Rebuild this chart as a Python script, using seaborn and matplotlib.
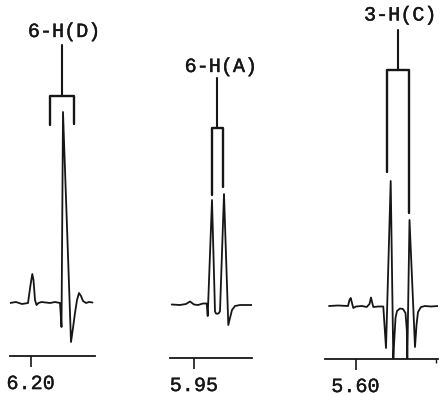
import matplotlib
matplotlib.use("Agg")
import matplotlib.pyplot as plt
import matplotlib.patheffects as pe
import pandas as pd
import seaborn as sns

# ---- spectra: chemical shift (ppm) and signal intensity (arbitrary units) ----
shift_d = [6.2207, 6.2147, 6.2087, 6.2027, 6.2002, 6.1984, 6.1972, 6.1957, 6.1942,
           6.1922, 6.1892, 6.1807, 6.1757, 6.1707, 6.1692, 6.1677, 6.1597, 6.1577,
           6.1557, 6.1537, 6.1517, 6.1497, 6.1477, 6.1447, 6.1417, 6.1382]
inten_d = [0, 1, -1, 0, 18, 29, 23, 3, -2,
           0, 1, 0, 1, 0, -24, 191, -39, -25,
           -10, 3, 10, 7, 2, 0, 1, 0.5]

shift_a = [5.9723, 5.9640, 5.9580, 5.9540, 5.9500, 5.9460, 5.9410, 5.9373, 5.9363,
           5.9320, 5.9290, 5.9280, 5.9265, 5.9250, 5.9240, 5.9200, 5.9157, 5.9140,
           5.9120, 5.9090, 5.9040, 5.8980, 5.8917]
inten_a = [0, -0.5, 0.5, 3, 0, -0.5, 1, 1, -11.5,
           104.5, -7, -9, -9.3, -8.5, -6.5, 110.5, -20.5, -13.5,
           -5.5, -1.5, -0.5, -0.5, -0.5]

shift_c = [5.6265, 5.6175, 5.6075, 5.6060, 5.6048, 5.6035, 5.6022, 5.5995, 5.5935,
           5.5888, 5.5860, 5.5845, 5.5832, 5.5822, 5.5775, 5.5722, 5.5695, 5.5648,
           5.5622, 5.5615, 5.5600, 5.5585, 5.5555, 5.5525, 5.5500, 5.5487, 5.5482,
           5.5460, 5.5405, 5.5390, 5.5375, 5.5345, 5.5305, 5.5245, 5.5175]
inten_c = [0, 0.5, 0, 6, 8, 3, -2, -0.5, 0,
           -1, 2, 8.5, 3, -1, -0.5, -0.5, -42, 125,
           -54, -39, -12, -5, -2.5, -3, -7, -24, -54,
           86, -41, -19, -6, -1, 0, -0.5, 0]

# ---- signal assignments and axis labels ----
assignments = ["6-H(D)", "6-H(A)", "3-H(C)"]
tick_values = [6.20, 5.95, 5.60]
tick_labels = ["6.20", "5.95", "5.60"]

# bracket legs (ppm) marking each multiplet
bracket_legs = [[6.1807, 6.1564], [5.9320, 5.9210], [5.5682, 5.5462]]

spectra = [(shift_d, inten_d), (shift_a, inten_a), (shift_c, inten_c)]

# ---- panel layout (pixel boxes on a 445x395 canvas) and bracket geometry ----
W, H = 445, 395
panels = [
    dict(x0=10, x1=95, axis_y=356, baseline=303, ppm_left=6.2207, ppm_right=6.1357,
         bar=207, leg_bottom=[178.5, 179], stem_top=258, label_y=271.5, minor=None,
         label_dx=1.5),
    dict(x0=170, x1=252, axis_y=358, baseline=304.5, ppm_left=5.9740, ppm_right=5.8920,
         bar=176.5, leg_bottom=[109.5, 117.5], stem_top=226.5, label_y=238, minor=None,
         label_dx=2.5),
    dict(x0=325, x1=438, axis_y=359, baseline=306, ppm_left=5.6305, ppm_right=5.5175,
         bar=236, leg_bottom=[134, 93], stem_top=276, label_y=291, minor=5.5195,
         label_dx=1.5),
]

sns.set_style("white")
plt.rcParams["font.family"] = ["Liberation Mono", "DejaVu Sans Mono"]

INK = "#161616"
LW = 1.3
TEXT_FX = [pe.withStroke(linewidth=0.3, foreground=INK)]

fig = plt.figure(figsize=(W / 100, H / 100), dpi=100)

for (shift, inten), name, tv, tl, legs, p in zip(
        spectra, assignments, tick_values, tick_labels, bracket_legs, panels):
    ax = fig.add_axes([p["x0"] / W, 1 - p["axis_y"] / H,
                       (p["x1"] - p["x0"]) / W, p["axis_y"] / H])
    df = pd.DataFrame({"ppm": shift, "intensity": inten})
    sns.lineplot(data=df, x="ppm", y="intensity", sort=False, estimator=None,
                 color=INK, lw=LW, ax=ax)

    ax.set_xlim(p["ppm_left"], p["ppm_right"])
    ax.set_ylim(p["baseline"] - p["axis_y"], p["baseline"])

    # bracket over the multiplet with the assignment on top
    stem_x = sum(legs) / 2
    ax.plot([legs[0], legs[0], legs[1], legs[1]],
            [p["leg_bottom"][0], p["bar"], p["bar"], p["leg_bottom"][1]],
            color=INK, lw=LW + 0.4, solid_joinstyle="round", clip_on=False)
    ax.plot([stem_x, stem_x], [p["bar"], p["stem_top"]], color=INK, lw=LW + 0.2,
            clip_on=False)
    ax.annotate(name, xy=(stem_x, p["label_y"]), xytext=(p["label_dx"], 0),
                textcoords="offset points", ha="center", va="center",
                fontsize=14.5, color=INK, annotation_clip=False,
                path_effects=TEXT_FX)

    # chemical-shift axis
    for side in ("left", "right", "top"):
        ax.spines[side].set_visible(False)
    ax.spines["bottom"].set_color(INK)
    ax.spines["bottom"].set_linewidth(1.3)
    ax.set_yticks([])
    ax.set_xticks([tv])
    ax.set_xticklabels([tl])
    if p["minor"] is not None:
        ax.set_xticks([p["minor"]], minor=True)
    ax.tick_params(axis="x", which="major", direction="out", length=8, width=1.2,
                   pad=5, labelsize=14.5, colors=INK, bottom=True)
    ax.tick_params(axis="x", which="minor", direction="out", length=3, width=1.0,
                   colors=INK, bottom=True)
    for lab in ax.get_xticklabels():
        lab.set_path_effects([pe.withStroke(linewidth=0.25, foreground=INK)])
    ax.set_xlabel("")
    ax.set_ylabel("")
    ax.patch.set_alpha(0)

fig.savefig("out.png", dpi=100)
